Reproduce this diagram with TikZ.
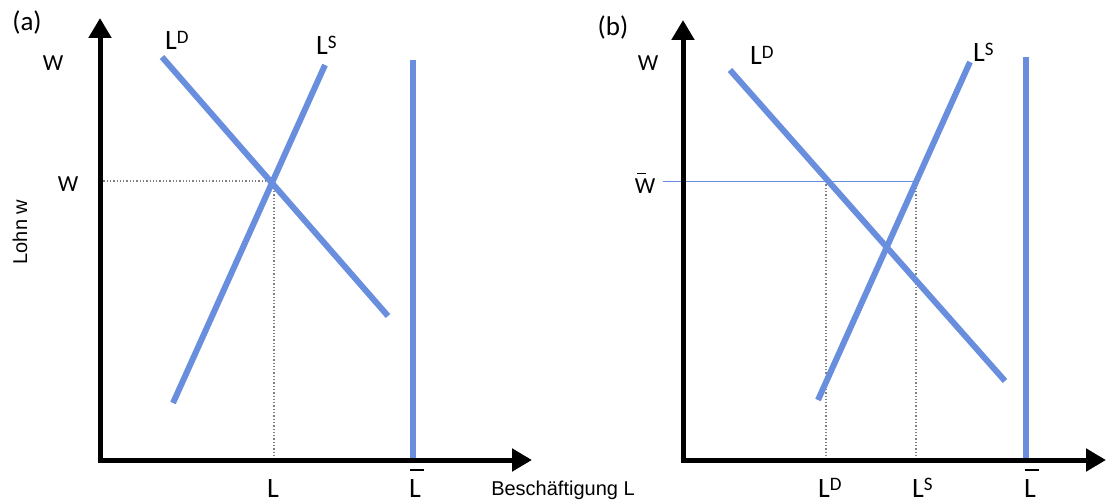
\documentclass[tikz,border=0pt]{standalone}
\usepackage{fontspec}
\setmainfont{Carlito}
\newfontfamily\arialf{Liberation Sans}
\usetikzlibrary{arrows.meta}
\definecolor{curve}{RGB}{105,142,222}
\newcommand{\myLbar}{\makebox[0pt][l]{\hspace{0.03em}\raisebox{0.93em}{\rule{0.5em}{0.06em}}}L}
\newcommand{\myWbar}{\makebox[0pt][l]{\hspace{0.1em}\raisebox{0.85em}{\rule{0.4em}{0.06em}}}W}
\newcommand{\mysup}[1]{\raisebox{0.22em}{\fontsize{19}{19}\selectfont #1}}
\begin{document}
\begin{tikzpicture}[x=1pt,y=-1pt,
  axis/.style={line width=5pt,-{Triangle[length=20pt,width=22pt]}},
  curveline/.style={curve,line width=6pt},
  guide/.style={gray,dotted,line width=1.3pt},
  thinblue/.style={curve,line width=1pt},
  lab/.style={font=\fontsize{23}{25}\selectfont,inner sep=0pt},
  biglab/.style={font=\fontsize{28}{30}\selectfont,inner sep=0pt},
  title/.style={font=\arialf\fontsize{20}{22}\selectfont,inner sep=0pt}]
\useasboundingbox (0,0) rectangle (1106,503);
% ---------- panel (a)
\coordinate (aO) at (100,460);
\coordinate (aYtop) at (100,18);
\coordinate (aXend) at (532,460);
\coordinate (aLDt) at (162,57);
\coordinate (aLDb) at (388,316);
\coordinate (aLSb) at (173,403);
\coordinate (aLSt) at (325,65);
\coordinate (aE) at (274,181);
\coordinate (aEx) at (274,460);
\coordinate (aEy) at (100,181);
\coordinate (aBt) at (413,60);
\coordinate (aBb) at (413,460);
\draw[guide] (aEy) -- (aE);
\draw[guide] (aE) -- (aEx);
\draw[curveline] (aLDt) -- (aLDb);
\draw[curveline] (aLSb) -- (aLSt);
\draw[curveline] (aBt) -- (aBb);
\draw[axis] ([yshift=2.5pt]aO) -- (aYtop);
\draw[axis] ([xshift=-2.5pt]aO) -- (aXend);
\node[font=\fontsize{27}{30}\selectfont,inner sep=0pt] (alab) at (27,22) {(a)};
\node[lab] (aW1) at (53,63) {W};
\node[lab] (aW2) at (68,184) {W};
\node[biglab,anchor=base west] (aLD) at (165,50) {L\mysup{D}};
\node[biglab,anchor=base west] (aLS) at (316,55) {L\mysup{S}};
\node[biglab,anchor=base] (aL) at (273,497) {L};
\node[biglab,anchor=base] (aLb) at (415,497) {\myLbar};
% ---------- panel (b)
\coordinate (bO) at (683,460);
\coordinate (bYtop) at (683,20);
\coordinate (bXend) at (1106,460);
\coordinate (bLDt) at (730,70);
\coordinate (bLDb) at (1005,381);
\coordinate (bLSb) at (818,400);
\coordinate (bLSt) at (970,62);
\coordinate (bWl) at (663,181);
\coordinate (bD) at (826,181);
\coordinate (bS) at (916,181);
\coordinate (bDx) at (826,460);
\coordinate (bSx) at (916,460);
\coordinate (bBt) at (1026,57);
\coordinate (bBb) at (1026,460);
\draw[thinblue] (bWl) -- (bS);
\draw[guide] (bD) -- (bDx);
\draw[guide] (bS) -- (bSx);
\draw[curveline] (bLDt) -- (bLDb);
\draw[curveline] (bLSb) -- (bLSt);
\draw[curveline] (bBt) -- (bBb);
\draw[axis] ([yshift=2.5pt]bO) -- (bYtop);
\draw[axis] ([xshift=-2.5pt]bO) -- (bXend);
\node[font=\fontsize{27}{30}\selectfont,inner sep=0pt] (blab) at (613,27) {(b)};
\node[lab] (bW1) at (648,63) {W};
\node[lab] (bW2) at (645,183) {\myWbar};
\node[biglab,anchor=base west] (bLDl) at (750,65) {L\mysup{D}};
\node[biglab,anchor=base west] (bLSl) at (973,62) {L\mysup{S}};
\node[biglab,anchor=base west] (bLDx) at (818,497) {L\mysup{D}};
\node[biglab,anchor=base west] (bLSx) at (912,497) {L\mysup{S}};
\node[biglab,anchor=base] (bLb) at (1030,497) {\myLbar};
% ---------- axis titles
\node[title,rotate=90] (ylab) at (20,232) {Lohn w};
\node[title] (xlab) at (563,490) {Beschäftigung L};
\end{tikzpicture}
\end{document}
